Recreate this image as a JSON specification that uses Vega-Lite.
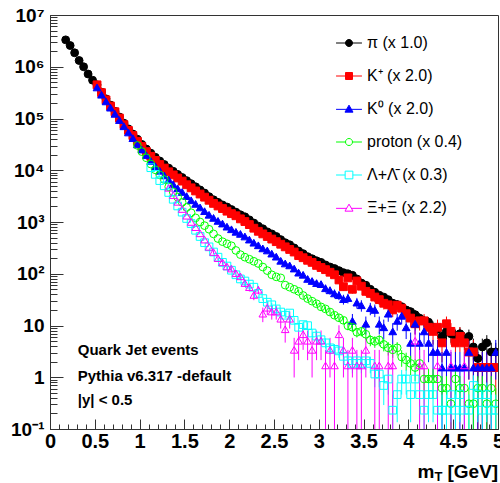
{
"$schema": "https://vega.github.io/schema/vega-lite/v6.json",
"width": 448, "height": 414,
"autosize": {"type": "none"},
"padding": {"left": 50, "top": 15, "right": 2, "bottom": 54},
"background": "white",
"config": {"view": {"stroke": "#333", "strokeWidth": 1}, "font": "Liberation Sans"},
"datasets": {
"ann": [
{"t": "Quark Jet events", "x": 0.31, "y": 3.37},
{"t": "Pythia v6.317 -default", "x": 0.31, "y": 1.06},
{"t": "|y| < 0.5", "x": 0.31, "y": 0.363}
],
"series": [{"s":"pi"},{"s":"kp"},{"s":"k0"},{"s":"p"},{"s":"lam"},{"s":"xi"}],
"main": [
{"s":"pi","x":0.175,"y":3310000},{"s":"pi","x":0.225,"y":2570000},{"s":"pi","x":0.275,"y":1860000},{"s":"pi","x":0.325,"y":1320000},{"s":"pi","x":0.375,"y":1000000},{"s":"pi","x":0.425,"y":724000},{"s":"pi","x":0.475,"y":550000},{"s":"pi","x":0.525,"y":447000},{"s":"pi","x":0.575,"y":324000},{"s":"pi","x":0.625,"y":240000},{"s":"pi","x":0.675,"y":182000},{"s":"pi","x":0.725,"y":138000},{"s":"pi","x":0.775,"y":107000},{"s":"pi","x":0.825,"y":81300},{"s":"pi","x":0.875,"y":63100},{"s":"pi","x":0.925,"y":50100},{"s":"pi","x":0.975,"y":39800},{"s":"pi","x":1.025,"y":31600},{"s":"pi","x":1.075,"y":25700},{"s":"pi","x":1.125,"y":21400},{"s":"pi","x":1.175,"y":17800},{"s":"pi","x":1.225,"y":15100},{"s":"pi","x":1.275,"y":12900},{"s":"pi","x":1.325,"y":11000},{"s":"pi","x":1.375,"y":9550},{"s":"pi","x":1.425,"y":8320},{"s":"pi","x":1.475,"y":7240},{"s":"pi","x":1.525,"y":6310},{"s":"pi","x":1.575,"y":5500},{"s":"pi","x":1.625,"y":4790},{"s":"pi","x":1.675,"y":4170},{"s":"pi","x":1.725,"y":3630},{"s":"pi","x":1.775,"y":3090},{"s":"pi","x":1.825,"y":2690},{"s":"pi","x":1.875,"y":2400},{"s":"pi","x":1.925,"y":2140},{"s":"pi","x":1.975,"y":1950},{"s":"pi","x":2.025,"y":1740},{"s":"pi","x":2.075,"y":1550},{"s":"pi","x":2.125,"y":1380},{"s":"pi","x":2.175,"y":1260},{"s":"pi","x":2.225,"y":1100},{"s":"pi","x":2.275,"y":955},{"s":"pi","x":2.325,"y":832},{"s":"pi","x":2.375,"y":741},{"s":"pi","x":2.425,"y":646},{"s":"pi","x":2.475,"y":589},{"s":"pi","x":2.525,"y":525},{"s":"pi","x":2.575,"y":457},{"s":"pi","x":2.625,"y":398},{"s":"pi","x":2.675,"y":363},{"s":"pi","x":2.725,"y":316},{"s":"pi","x":2.775,"y":275},{"s":"pi","x":2.825,"y":245},{"s":"pi","x":2.875,"y":214},{"s":"pi","x":2.925,"y":195},{"s":"pi","x":2.975,"y":178},{"s":"pi","x":3.025,"y":166},{"s":"pi","x":3.075,"y":148},{"s":"pi","x":3.125,"y":135},{"s":"pi","x":3.175,"y":126},
{"s":"pi","x":3.225,"y":115,"l":106,"h":124},{"s":"pi","x":3.275,"y":105,"l":96,"h":114},{"s":"pi","x":3.325,"y":100,"l":91.2,"h":108.8},{"s":"pi","x":3.375,"y":93.3,"l":84.8,"h":101.8},{"s":"pi","x":3.425,"y":79.3,"l":71.5,"h":87.1},{"s":"pi","x":3.475,"y":66.2,"l":59.1,"h":73.3},{"s":"pi","x":3.525,"y":60.1,"l":53.3,"h":66.9},{"s":"pi","x":3.575,"y":50.1,"l":43.9,"h":56.3},{"s":"pi","x":3.625,"y":43.9,"l":38.1,"h":49.7},{"s":"pi","x":3.675,"y":38.5,"l":33.1,"h":43.9},{"s":"pi","x":3.725,"y":35.4,"l":30.2,"h":40.6},{"s":"pi","x":3.775,"y":31.6,"l":26.7,"h":36.5},{"s":"pi","x":3.825,"y":27.0,"l":22.4,"h":31.6},{"s":"pi","x":3.875,"y":25.4,"l":21.0,"h":29.8},{"s":"pi","x":3.925,"y":23.1,"l":18.9,"h":27.3},{"s":"pi","x":3.975,"y":20.0,"l":16.1,"h":23.9},{"s":"pi","x":4.025,"y":18.5,"l":14.7,"h":22.3},{"s":"pi","x":4.075,"y":16.2,"l":12.7,"h":19.7},{"s":"pi","x":4.125,"y":13.9,"l":10.6,"h":17.2},{"s":"pi","x":4.175,"y":12.3,"l":9.2,"h":15.4},{"s":"pi","x":4.225,"y":11.6,"l":8.6,"h":14.6},{"s":"pi","x":4.275,"y":9.24,"l":6.57,"h":11.9},{"s":"pi","x":4.325,"y":8.47,"l":5.92,"h":11.0},{"s":"pi","x":4.375,"y":6.16,"l":3.98,"h":8.34},{"s":"pi","x":4.425,"y":7.7,"l":5.27,"h":10.1},{"s":"pi","x":4.475,"y":6.93,"l":4.62,"h":9.24},{"s":"pi","x":4.525,"y":6.16,"l":3.98,"h":8.34},{"s":"pi","x":4.575,"y":6.93,"l":4.62,"h":9.24},{"s":"pi","x":4.625,"y":5.39,"l":3.35,"h":7.43},{"s":"pi","x":4.675,"y":6.16,"l":3.98,"h":8.34},{"s":"pi","x":4.725,"y":3.85,"l":2.13,"h":5.57},{"s":"pi","x":4.775,"y":2.31,"l":0.98,"h":3.64},{"s":"pi","x":4.825,"y":3.85,"l":2.13,"h":5.57},{"s":"pi","x":4.875,"y":4.62,"l":2.73,"h":6.51},{"s":"pi","x":4.925,"y":3.08,"l":1.54,"h":4.62},{"s":"pi","x":4.975,"y":3.08,"l":1.54,"h":4.62},
{"s":"kp","x":0.525,"y":447000},{"s":"kp","x":0.575,"y":316000},{"s":"kp","x":0.625,"y":229000},{"s":"kp","x":0.675,"y":174000},{"s":"kp","x":0.725,"y":135000},{"s":"kp","x":0.775,"y":102000},{"s":"kp","x":0.825,"y":75900},{"s":"kp","x":0.875,"y":58900},{"s":"kp","x":0.925,"y":46800},{"s":"kp","x":0.975,"y":36300},{"s":"kp","x":1.025,"y":28800},{"s":"kp","x":1.075,"y":22900},{"s":"kp","x":1.125,"y":18600},{"s":"kp","x":1.175,"y":15500},{"s":"kp","x":1.225,"y":12900},{"s":"kp","x":1.275,"y":11000},{"s":"kp","x":1.325,"y":9330},{"s":"kp","x":1.375,"y":8130},{"s":"kp","x":1.425,"y":7080},{"s":"kp","x":1.475,"y":6170},{"s":"kp","x":1.525,"y":5250},{"s":"kp","x":1.575,"y":4570},{"s":"kp","x":1.625,"y":3980},{"s":"kp","x":1.675,"y":3470},{"s":"kp","x":1.725,"y":3020},{"s":"kp","x":1.775,"y":2630},{"s":"kp","x":1.825,"y":2290},{"s":"kp","x":1.875,"y":2040},{"s":"kp","x":1.925,"y":1820},{"s":"kp","x":1.975,"y":1620},{"s":"kp","x":2.025,"y":1450},{"s":"kp","x":2.075,"y":1320},{"s":"kp","x":2.125,"y":1150},{"s":"kp","x":2.175,"y":1020},{"s":"kp","x":2.225,"y":891},{"s":"kp","x":2.275,"y":759},{"s":"kp","x":2.325,"y":661},{"s":"kp","x":2.375,"y":589},{"s":"kp","x":2.425,"y":525},{"s":"kp","x":2.475,"y":468},{"s":"kp","x":2.525,"y":417},{"s":"kp","x":2.575,"y":372},{"s":"kp","x":2.625,"y":331},{"s":"kp","x":2.675,"y":295},{"s":"kp","x":2.725,"y":263},{"s":"kp","x":2.775,"y":224},
{"s":"kp","x":2.825,"y":204,"l":186,"h":222},{"s":"kp","x":2.875,"y":182,"l":165,"h":199},{"s":"kp","x":2.925,"y":166,"l":150,"h":182},{"s":"kp","x":2.975,"y":145,"l":130,"h":160},{"s":"kp","x":3.025,"y":132,"l":118,"h":146},{"s":"kp","x":3.075,"y":120,"l":106,"h":134},{"s":"kp","x":3.125,"y":107,"l":94,"h":120},{"s":"kp","x":3.175,"y":95.5,"l":83.4,"h":107.6},{"s":"kp","x":3.225,"y":75.9,"l":65,"h":86.7},{"s":"kp","x":3.275,"y":56.2,"l":46.8,"h":65.6},{"s":"kp","x":3.325,"y":83.2,"l":71.9,"h":94.5},{"s":"kp","x":3.375,"y":50.1,"l":41.4,"h":58.8},{"s":"kp","x":3.425,"y":72.4,"l":61.8,"h":83},{"s":"kp","x":3.475,"y":57.5,"l":48.1,"h":66.9},{"s":"kp","x":3.525,"y":45.7,"l":37.3,"h":54.1},{"s":"kp","x":3.575,"y":41.7,"l":33.7,"h":49.7},{"s":"kp","x":3.625,"y":35.5,"l":28.1,"h":42.9},{"s":"kp","x":3.675,"y":31.6,"l":24.7,"h":38.5},{"s":"kp","x":3.725,"y":26.9,"l":20.4,"h":33.4},{"s":"kp","x":3.775,"y":25.1,"l":18.8,"h":31.4},{"s":"kp","x":3.825,"y":20,"l":14.5,"h":25.5},{"s":"kp","x":3.875,"y":24.6,"l":18.5,"h":30.8},{"s":"kp","x":3.925,"y":21.6,"l":15.8,"h":27.4},{"s":"kp","x":3.975,"y":16.9,"l":11.8,"h":22.0},{"s":"kp","x":4.025,"y":13.9,"l":9.2,"h":18.5},{"s":"kp","x":4.075,"y":10.8,"l":6.7,"h":14.9},{"s":"kp","x":4.125,"y":12.3,"l":7.96,"h":16.7},{"s":"kp","x":4.175,"y":12.3,"l":7.96,"h":16.7},{"s":"kp","x":4.225,"y":9.24,"l":5.47,"h":13.0},{"s":"kp","x":4.275,"y":7.7,"l":4.26,"h":11.1},{"s":"kp","x":4.325,"y":9.24,"l":5.47,"h":13.0},{"s":"kp","x":4.375,"y":4.62,"l":1.95,"h":7.29},{"s":"kp","x":4.425,"y":10.8,"l":6.7,"h":14.9},{"s":"kp","x":4.475,"y":7.7,"l":4.26,"h":11.1},{"s":"kp","x":4.525,"y":4.62,"l":1.95,"h":7.29},{"s":"kp","x":4.575,"y":6.16,"l":3.08,"h":9.24},{"s":"kp","x":4.625,"y":4.62,"l":1.95,"h":7.29},{"s":"kp","x":4.675,"y":3.08,"l":0.9,"h":5.26},{"s":"kp","x":4.725,"y":3.08,"l":0.9,"h":5.26},{"s":"kp","x":4.775,"y":1.54,"l":0.01,"h":3.08},{"s":"kp","x":4.825,"y":1.54,"l":0.01,"h":3.08},{"s":"kp","x":4.875,"y":1.54,"l":0.01,"h":3.08},{"s":"kp","x":4.925,"y":1.54,"l":0.01,"h":3.08},{"s":"kp","x":4.975,"y":1.54,"l":0.01,"h":3.08},
{"s":"k0","x":0.525,"y":398000},{"s":"k0","x":0.575,"y":288000},{"s":"k0","x":0.625,"y":214000},{"s":"k0","x":0.675,"y":162000},{"s":"k0","x":0.725,"y":123000},{"s":"k0","x":0.775,"y":93300},{"s":"k0","x":0.825,"y":70800},{"s":"k0","x":0.875,"y":53700},{"s":"k0","x":0.925,"y":41700},{"s":"k0","x":0.975,"y":31600},{"s":"k0","x":1.025,"y":25100},{"s":"k0","x":1.075,"y":19500},{"s":"k0","x":1.125,"y":15100},{"s":"k0","x":1.175,"y":12000},{"s":"k0","x":1.225,"y":9770},{"s":"k0","x":1.275,"y":7940},{"s":"k0","x":1.325,"y":6610},{"s":"k0","x":1.375,"y":5370},{"s":"k0","x":1.425,"y":4470},{"s":"k0","x":1.475,"y":3800},{"s":"k0","x":1.525,"y":3160},{"s":"k0","x":1.575,"y":2630},{"s":"k0","x":1.625,"y":2240},{"s":"k0","x":1.675,"y":1910},{"s":"k0","x":1.725,"y":1620},{"s":"k0","x":1.775,"y":1380},{"s":"k0","x":1.825,"y":1200},{"s":"k0","x":1.875,"y":1050},{"s":"k0","x":1.925,"y":933},{"s":"k0","x":1.975,"y":813},{"s":"k0","x":2.025,"y":724},{"s":"k0","x":2.075,"y":646},{"s":"k0","x":2.125,"y":589},{"s":"k0","x":2.175,"y":525},{"s":"k0","x":2.225,"y":457},{"s":"k0","x":2.275,"y":398},{"s":"k0","x":2.325,"y":355},{"s":"k0","x":2.375,"y":309},{"s":"k0","x":2.425,"y":282},
{"s":"k0","x":2.475,"y":245,"l":226,"h":264},{"s":"k0","x":2.525,"y":214,"l":196,"h":232},{"s":"k0","x":2.575,"y":178,"l":161,"h":195},{"s":"k0","x":2.625,"y":158,"l":142,"h":174},{"s":"k0","x":2.675,"y":145,"l":130,"h":160},{"s":"k0","x":2.725,"y":126,"l":112,"h":140},{"s":"k0","x":2.775,"y":105,"l":92,"h":118},{"s":"k0","x":2.825,"y":95.5,"l":83.4,"h":107.6},{"s":"k0","x":2.875,"y":79.4,"l":68.4,"h":90.4},{"s":"k0","x":2.925,"y":72.4,"l":61.8,"h":83},{"s":"k0","x":2.975,"y":66,"l":56,"h":76},{"s":"k0","x":3.025,"y":63,"l":53.2,"h":72.8},{"s":"k0","x":3.075,"y":52.5,"l":43.5,"h":61.5},{"s":"k0","x":3.125,"y":47.9,"l":39.3,"h":56.5},{"s":"k0","x":3.175,"y":41.7,"l":33.7,"h":49.7},{"s":"k0","x":3.225,"y":38.5,"l":30.8,"h":46.2},{"s":"k0","x":3.275,"y":32.3,"l":25.3,"h":39.3},{"s":"k0","x":3.325,"y":33.9,"l":26.7,"h":41.1},{"s":"k0","x":3.375,"y":12.3,"l":7.96,"h":16.7},{"s":"k0","x":3.425,"y":27.7,"l":21.2,"h":34.2},{"s":"k0","x":3.475,"y":24.6,"l":18.5,"h":30.8},{"s":"k0","x":3.525,"y":10.8,"l":6.7,"h":14.9},{"s":"k0","x":3.575,"y":21.6,"l":15.8,"h":27.4},{"s":"k0","x":3.625,"y":20.0,"l":14.5,"h":25.5},{"s":"k0","x":3.675,"y":10.8,"l":6.7,"h":14.9},{"s":"k0","x":3.725,"y":9.24,"l":5.47,"h":13.0},{"s":"k0","x":3.775,"y":16.9,"l":11.8,"h":22.0},{"s":"k0","x":3.825,"y":7.7,"l":4.26,"h":11.1},{"s":"k0","x":3.875,"y":12.3,"l":7.96,"h":16.7},{"s":"k0","x":3.925,"y":15.4,"l":10.5,"h":20.3},{"s":"k0","x":3.975,"y":9.24,"l":5.47,"h":13.0},{"s":"k0","x":4.025,"y":4.62,"l":1.95,"h":7.29},{"s":"k0","x":4.075,"y":10.8,"l":6.7,"h":14.9},{"s":"k0","x":4.125,"y":4.62,"l":1.95,"h":7.29},{"s":"k0","x":4.175,"y":7.7,"l":4.26,"h":11.1},{"s":"k0","x":4.225,"y":4.62,"l":1.95,"h":7.29},{"s":"k0","x":4.275,"y":3.08,"l":0.9,"h":5.26},{"s":"k0","x":4.325,"y":3.08,"l":0.9,"h":5.26},{"s":"k0","x":4.375,"y":1.54,"l":0.01,"h":3.08},{"s":"k0","x":4.425,"y":3.08,"l":0.9,"h":5.26},{"s":"k0","x":4.475,"y":1.54,"l":0.01,"h":3.08},{"s":"k0","x":4.525,"y":1.54,"l":0.01,"h":3.08},{"s":"k0","x":4.575,"y":1.54,"l":0.01,"h":3.08},{"s":"k0","x":4.625,"y":1.54,"l":0.01,"h":3.08},{"s":"k0","x":4.675,"y":3.08,"l":0.9,"h":5.26},{"s":"k0","x":4.725,"y":1.54,"l":0.01,"h":3.08},{"s":"k0","x":4.775,"y":1.54,"l":0.01,"h":3.08},{"s":"k0","x":4.825,"y":1.54,"l":0.01,"h":3.08},{"s":"k0","x":4.875,"y":1.54,"l":0.01,"h":3.08},{"s":"k0","x":4.925,"y":1.54,"l":0.01,"h":3.08},{"s":"k0","x":4.975,"y":3.08,"l":0.9,"h":5.26},
{"s":"p","x":0.975,"y":30200},{"s":"p","x":1.025,"y":22900},{"s":"p","x":1.075,"y":17400},{"s":"p","x":1.125,"y":13200},{"s":"p","x":1.175,"y":10200},{"s":"p","x":1.225,"y":8130},{"s":"p","x":1.275,"y":6610},{"s":"p","x":1.325,"y":4790},{"s":"p","x":1.375,"y":3800},{"s":"p","x":1.425,"y":3020},{"s":"p","x":1.475,"y":2400},{"s":"p","x":1.525,"y":1910},{"s":"p","x":1.575,"y":1510},{"s":"p","x":1.625,"y":1200},{"s":"p","x":1.675,"y":1000},{"s":"p","x":1.725,"y":851},{"s":"p","x":1.775,"y":724},{"s":"p","x":1.825,"y":589},{"s":"p","x":1.875,"y":479},{"s":"p","x":1.925,"y":417},{"s":"p","x":1.975,"y":380},{"s":"p","x":2.025,"y":347},{"s":"p","x":2.075,"y":282},{"s":"p","x":2.125,"y":234},{"s":"p","x":2.175,"y":209},{"s":"p","x":2.225,"y":191},{"s":"p","x":2.275,"y":174},{"s":"p","x":2.325,"y":158},{"s":"p","x":2.375,"y":135},{"s":"p","x":2.425,"y":115},{"s":"p","x":2.475,"y":95.5},{"s":"p","x":2.525,"y":87.1},{"s":"p","x":2.575,"y":83.2},{"s":"p","x":2.625,"y":60.3},{"s":"p","x":2.675,"y":55},{"s":"p","x":2.725,"y":50.1},
{"s":"p","x":2.775,"y":45.7,"l":42,"h":49.5},{"s":"p","x":2.825,"y":38,"l":34.6,"h":41.4},{"s":"p","x":2.875,"y":33.1,"l":29.9,"h":36.3},{"s":"p","x":2.925,"y":29.5,"l":26.5,"h":32.5},{"s":"p","x":2.975,"y":26.3,"l":23.5,"h":29.1},{"s":"p","x":3.025,"y":22.9,"l":20.2,"h":25.6},{"s":"p","x":3.075,"y":20.9,"l":18.4,"h":23.4},{"s":"p","x":3.125,"y":18.2,"l":15.8,"h":20.6},{"s":"p","x":3.175,"y":15.8,"l":13.6,"h":18.0},{"s":"p","x":3.225,"y":14.1,"l":12.0,"h":16.2},{"s":"p","x":3.275,"y":12.6,"l":10.6,"h":14.6},{"s":"p","x":3.325,"y":9.86,"l":8.11,"h":11.6},{"s":"p","x":3.375,"y":9.24,"l":7.55,"h":10.9},{"s":"p","x":3.425,"y":7.39,"l":5.88,"h":8.9},{"s":"p","x":3.475,"y":7.7,"l":6.16,"h":9.24},{"s":"p","x":3.525,"y":6.78,"l":5.33,"h":8.22},{"s":"p","x":3.575,"y":5.24,"l":3.97,"h":6.51},{"s":"p","x":3.625,"y":4.93,"l":3.7,"h":6.16},{"s":"p","x":3.675,"y":5.24,"l":3.97,"h":6.51},{"s":"p","x":3.725,"y":4.31,"l":3.16,"h":5.46},{"s":"p","x":3.775,"y":3.7,"l":2.63,"h":4.77},{"s":"p","x":3.825,"y":3.39,"l":2.37,"h":4.41},{"s":"p","x":3.875,"y":3.7,"l":2.63,"h":4.77},{"s":"p","x":3.925,"y":2.46,"l":1.59,"h":3.33},{"s":"p","x":3.975,"y":2.16,"l":1.34,"h":2.98},{"s":"p","x":4.025,"y":1.85,"l":1.1,"h":2.6},{"s":"p","x":4.075,"y":1.54,"l":0.85,"h":2.23},{"s":"p","x":4.125,"y":1.85,"l":1.1,"h":2.6},{"s":"p","x":4.175,"y":0.924,"l":0.39,"h":1.46},{"s":"p","x":4.225,"y":0.924,"l":0.39,"h":1.46},{"s":"p","x":4.275,"y":0.924,"l":0.39,"h":1.46},{"s":"p","x":4.325,"y":0.924,"l":0.39,"h":1.46},{"s":"p","x":4.375,"y":0.616,"l":0.18,"h":1.05},{"s":"p","x":4.425,"y":0.616,"l":0.18,"h":1.05},{"s":"p","x":4.475,"y":0.308,"l":0.01,"h":0.616},{"s":"p","x":4.525,"y":0.924,"l":0.39,"h":1.46},{"s":"p","x":4.575,"y":0.616,"l":0.18,"h":1.05},{"s":"p","x":4.625,"y":0.616,"l":0.18,"h":1.05},{"s":"p","x":4.675,"y":0.308,"l":0.01,"h":0.616},{"s":"p","x":4.725,"y":0.308,"l":0.01,"h":0.616},{"s":"p","x":4.775,"y":0.616,"l":0.18,"h":1.05},{"s":"p","x":4.825,"y":0.616,"l":0.18,"h":1.05},{"s":"p","x":4.875,"y":0.308,"l":0.01,"h":0.616},{"s":"p","x":4.925,"y":0.616,"l":0.18,"h":1.05},{"s":"p","x":4.975,"y":0.308,"l":0.01,"h":0.616},
{"s":"lam","x":1.125,"y":11200},{"s":"lam","x":1.175,"y":8320},{"s":"lam","x":1.225,"y":6310},{"s":"lam","x":1.275,"y":5010},{"s":"lam","x":1.325,"y":3720},{"s":"lam","x":1.375,"y":2750},{"s":"lam","x":1.425,"y":2040},{"s":"lam","x":1.475,"y":1550},{"s":"lam","x":1.525,"y":1170},{"s":"lam","x":1.575,"y":933},{"s":"lam","x":1.625,"y":692},{"s":"lam","x":1.675,"y":525},{"s":"lam","x":1.725,"y":398},{"s":"lam","x":1.775,"y":331},{"s":"lam","x":1.825,"y":263},{"s":"lam","x":1.875,"y":209},{"s":"lam","x":1.925,"y":166},{"s":"lam","x":1.975,"y":141},{"s":"lam","x":2.025,"y":117},{"s":"lam","x":2.075,"y":95.5},{"s":"lam","x":2.125,"y":79.4},{"s":"lam","x":2.175,"y":72.4},{"s":"lam","x":2.225,"y":63.1},{"s":"lam","x":2.275,"y":55},{"s":"lam","x":2.325,"y":41.7},
{"s":"lam","x":2.375,"y":33.1,"l":30.3,"h":35.9},{"s":"lam","x":2.425,"y":28.2,"l":25.7,"h":30.7},{"s":"lam","x":2.475,"y":25.1,"l":22.7,"h":27.5},{"s":"lam","x":2.525,"y":20.9,"l":18.7,"h":23.1},{"s":"lam","x":2.575,"y":18.2,"l":16.1,"h":20.3},{"s":"lam","x":2.625,"y":15.8,"l":13.9,"h":17.7},{"s":"lam","x":2.675,"y":17.4,"l":15.4,"h":19.4},{"s":"lam","x":2.725,"y":12.6,"l":10.9,"h":14.3},{"s":"lam","x":2.775,"y":9.24,"l":7.78,"h":10.7},{"s":"lam","x":2.825,"y":10.4,"l":8.85,"h":11.9},{"s":"lam","x":2.875,"y":9.93,"l":8.42,"h":11.4},{"s":"lam","x":2.925,"y":7.16,"l":5.87,"h":8.45},{"s":"lam","x":2.975,"y":6.24,"l":5.04,"h":7.44},{"s":"lam","x":3.025,"y":5.31,"l":4.2,"h":6.42},{"s":"lam","x":3.075,"y":4.62,"l":3.59,"h":5.65},{"s":"lam","x":3.125,"y":3.7,"l":2.77,"h":4.62},{"s":"lam","x":3.175,"y":3.47,"l":2.57,"h":4.37},{"s":"lam","x":3.225,"y":3.23,"l":2.37,"h":4.09},{"s":"lam","x":3.275,"y":2.54,"l":1.77,"h":3.31},{"s":"lam","x":3.325,"y":2.08,"l":1.39,"h":2.77},{"s":"lam","x":3.375,"y":1.85,"l":1.19,"h":2.5},{"s":"lam","x":3.425,"y":2.08,"l":1.39,"h":2.77},{"s":"lam","x":3.475,"y":1.85,"l":1.19,"h":2.5},{"s":"lam","x":3.525,"y":2.08,"l":1.39,"h":2.77},{"s":"lam","x":3.575,"y":1.85,"l":1.19,"h":2.5},{"s":"lam","x":3.625,"y":1.155,"l":0.64,"h":1.67},{"s":"lam","x":3.675,"y":1.155,"l":0.64,"h":1.67},{"s":"lam","x":3.725,"y":0.693,"l":0.29,"h":1.09},{"s":"lam","x":3.775,"y":0.924,"l":0.462,"h":1.386},{"s":"lam","x":3.825,"y":0.231,"l":0.01,"h":0.462},{"s":"lam","x":3.875,"y":0.462,"l":0.135,"h":0.789},{"s":"lam","x":3.925,"y":0.924,"l":0.462,"h":1.386},{"s":"lam","x":3.975,"y":0.924,"l":0.462,"h":1.386},{"s":"lam","x":4.025,"y":0.462,"l":0.135,"h":0.789},{"s":"lam","x":4.075,"y":0.924,"l":0.462,"h":1.386},{"s":"lam","x":4.125,"y":0.462,"l":0.135,"h":0.789},{"s":"lam","x":4.175,"y":0.231,"l":0.01,"h":0.462},{"s":"lam","x":4.225,"y":0.462,"l":0.135,"h":0.789},{"s":"lam","x":4.275,"y":0.462,"l":0.135,"h":0.789},{"s":"lam","x":4.325,"y":0.231,"l":0.01,"h":0.462},{"s":"lam","x":4.375,"y":0.231,"l":0.01,"h":0.462},{"s":"lam","x":4.425,"y":0.231,"l":0.01,"h":0.462},{"s":"lam","x":4.475,"y":0.462,"l":0.135,"h":0.789},{"s":"lam","x":4.525,"y":0.231,"l":0.01,"h":0.462},{"s":"lam","x":4.575,"y":0.462,"l":0.135,"h":0.789},{"s":"lam","x":4.625,"y":0.231,"l":0.01,"h":0.462},{"s":"lam","x":4.675,"y":0.231,"l":0.01,"h":0.462},{"s":"lam","x":4.725,"y":0.693,"l":0.29,"h":1.09},{"s":"lam","x":4.775,"y":0.462,"l":0.135,"h":0.789},{"s":"lam","x":4.825,"y":0.231,"l":0.01,"h":0.462},{"s":"lam","x":4.875,"y":0.462,"l":0.135,"h":0.789},{"s":"lam","x":4.925,"y":0.231,"l":0.01,"h":0.462},{"s":"lam","x":4.975,"y":0.231,"l":0.01,"h":0.462},
{"s":"xi","x":1.325,"y":4570},{"s":"xi","x":1.375,"y":3310},{"s":"xi","x":1.425,"y":2450},{"s":"xi","x":1.475,"y":1780},{"s":"xi","x":1.525,"y":1320},{"s":"xi","x":1.575,"y":1000},{"s":"xi","x":1.625,"y":794},{"s":"xi","x":1.675,"y":603},{"s":"xi","x":1.725,"y":457},{"s":"xi","x":1.775,"y":331},
{"s":"xi","x":1.825,"y":263,"l":242,"h":284},{"s":"xi","x":1.875,"y":200,"l":181,"h":218},{"s":"xi","x":1.925,"y":166,"l":149,"h":183},{"s":"xi","x":1.975,"y":138,"l":123,"h":153},{"s":"xi","x":2.025,"y":126,"l":111,"h":141},{"s":"xi","x":2.075,"y":102,"l":89,"h":115},{"s":"xi","x":2.125,"y":89,"l":77,"h":101},{"s":"xi","x":2.175,"y":66,"l":55.4,"h":76.6},{"s":"xi","x":2.225,"y":55,"l":45.4,"h":64.6},{"s":"xi","x":2.275,"y":38.9,"l":30.8,"h":47},{"s":"xi","x":2.325,"y":49,"l":39.9,"h":58.1},{"s":"xi","x":2.375,"y":16.9,"l":11.6,"h":22.2},{"s":"xi","x":2.425,"y":22.0,"l":15.9,"h":28.1},{"s":"xi","x":2.475,"y":18.6,"l":13,"h":24.2},{"s":"xi","x":2.525,"y":18.6,"l":13,"h":24.2},{"s":"xi","x":2.575,"y":13.5,"l":8.73,"h":18.3},{"s":"xi","x":2.625,"y":8.45,"l":4.67,"h":12.2},{"s":"xi","x":2.675,"y":13.5,"l":8.73,"h":18.3},{"s":"xi","x":2.725,"y":3.38,"l":0.99,"h":5.77},{"s":"xi","x":2.775,"y":5.07,"l":2.14,"h":8},{"s":"xi","x":2.825,"y":6.76,"l":3.38,"h":10.1},{"s":"xi","x":2.875,"y":5.07,"l":2.14,"h":8},{"s":"xi","x":2.925,"y":3.38,"l":0.99,"h":5.77},{"s":"xi","x":2.975,"y":5.07,"l":2.14,"h":8},{"s":"xi","x":3.025,"y":5.07,"l":2.14,"h":8},{"s":"xi","x":3.075,"y":1.69,"l":0.01,"h":3.38},{"s":"xi","x":3.125,"y":3.38,"l":0.99,"h":5.77},{"s":"xi","x":3.175,"y":1.69,"l":0.01,"h":3.38},{"s":"xi","x":3.225,"y":6.76,"l":3.38,"h":10.1},{"s":"xi","x":3.275,"y":3.38,"l":0.99,"h":5.77},{"s":"xi","x":3.325,"y":1.69,"l":0.01,"h":3.38},{"s":"xi","x":3.375,"y":3.38,"l":0.99,"h":5.77},{"s":"xi","x":3.425,"y":1.69,"l":0.01,"h":3.38},{"s":"xi","x":3.475,"y":1.69,"l":0.01,"h":3.38},{"s":"xi","x":3.525,"y":3.38,"l":0.99,"h":5.77},{"s":"xi","x":3.625,"y":1.69,"l":0.01,"h":3.38},{"s":"xi","x":3.675,"y":1.69,"l":0.01,"h":3.38},{"s":"xi","x":3.775,"y":1.69,"l":0.01,"h":3.38},{"s":"xi","x":3.825,"y":1.69,"l":0.01,"h":3.38},{"s":"xi","x":4.075,"y":5.07,"l":2.14,"h":8},{"s":"xi","x":4.125,"y":1.69,"l":0.01,"h":3.38},{"s":"xi","x":4.175,"y":1.69,"l":0.01,"h":3.38},{"s":"xi","x":4.325,"y":1.69,"l":0.01,"h":3.38},{"s":"xi","x":4.475,"y":1.69,"l":0.01,"h":3.38},{"s":"xi","x":4.625,"y":1.69,"l":0.01,"h":3.38}
]
},
"resolve": {"axis": {"x": "independent", "y": "independent"}, "scale": {"shape": "independent", "fill": "independent", "stroke": "independent"}},
"layer": [
{
"data": {"name": "main"},
"transform": [{"filter": "isValid(datum.l)"}],
"mark": {"type": "rule", "strokeWidth": 1, "clip": true},
"encoding": {
"x": {"field": "x", "type": "quantitative", "scale": {"domain": [0, 5], "nice": false, "zero": false},
"axis": {"orient": "bottom", "values": [0, 0.5, 1, 1.5, 2, 2.5, 3, 3.5, 4, 4.5, 5], "ticks": false, "grid": false, "domain": true, "domainColor": "#333", "labelFont": "Liberation Sans", "labelFontWeight": "bold", "labelFontSize": 20, "labelColor": "#000", "labelPadding": 2, "labelFlush": false, "labelOverlap": false, "format": "~g",
"title": "m", "titleFont": "Liberation Sans", "titleFontWeight": "bold", "titleFontSize": 19, "titleColor": "#000", "titleX": 367, "titleY": 48, "titleAlign": "left", "titleBaseline": "alphabetic", "titleAnchor": "start"}},
"y": {"field": "l", "type": "quantitative", "scale": {"type": "log", "domain": [0.1, 10000000], "nice": false},
"axis": {"orient": "left", "values": [0.1, 1, 10, 100, 1000, 10000, 100000, 1000000, 10000000], "ticks": false, "grid": false, "domain": true, "domainColor": "#333", "labelFont": "Liberation Sans", "labelFontWeight": "bold", "labelFontSize": 19, "labelColor": "#000", "labelPadding": 6, "labelFlush": false, "labelOverlap": false, "title": null,
"labelExpr": "datum.value < 0.5 ? '10⁻¹' : datum.value < 5 ? '1' : datum.value < 50 ? '10' : datum.value < 500 ? '10²' : datum.value < 5000 ? '10³' : datum.value < 50000 ? '10⁴' : datum.value < 500000 ? '10⁵' : datum.value < 5000000 ? '10⁶' : '10⁷'"}},
"y2": {"field": "h"},
"color": {"field": "s", "type": "nominal", "scale": {"domain": ["xi", "lam", "p", "k0", "kp", "pi"], "range": ["#ff00ff", "#00ffff", "#00ff00", "#0000ff", "#ff0000", "#000000"]}, "legend": null}
}
},
{
"data": {"name": "main"},
"mark": {"type": "point", "strokeWidth": 1, "opacity": 1, "clip": true},
"encoding": {
"x": {"field": "x", "type": "quantitative",
"axis": {"orient": "bottom", "values": [0.1,0.2,0.3,0.4,0.6,0.7,0.8,0.9,1.1,1.2,1.3,1.4,1.6,1.7,1.8,1.9,2.1,2.2,2.3,2.4,2.6,2.7,2.8,2.9,3.1,3.2,3.3,3.4,3.6,3.7,3.8,3.9,4.1,4.2,4.3,4.4,4.6,4.7,4.8,4.9], "tickSize": -5, "tickColor": "#333", "labels": false, "domain": false, "grid": false,
"title": "T", "titleFont": "Liberation Sans", "titleFontWeight": "bold", "titleFontSize": 13, "titleColor": "#000", "titleX": 384, "titleY": 51, "titleAlign": "left", "titleBaseline": "alphabetic", "titleAnchor": "start"}},
"y": {"field": "y", "type": "quantitative",
"axis": {"orient": "left", "values": [0.2,0.3,0.4,0.5,0.6,0.7,0.8,0.9,2,3,4,5,6,7,8,9,20,30,40,50,60,70,80,90,200,300,400,500,600,700,800,900,2000,3000,4000,5000,6000,7000,8000,9000,20000,30000,40000,50000,60000,70000,80000,90000,200000,300000,400000,500000,600000,700000,800000,900000,2000000,3000000,4000000,5000000,6000000,7000000,8000000,9000000], "tickSize": -7, "tickColor": "#333", "labels": false, "domain": false, "grid": false, "title": null}},
"color": {"field": "s", "type": "nominal", "legend": null},
"shape": {"field": "s", "type": "nominal", "scale": {"domain": ["xi", "lam", "p", "k0", "kp", "pi"], "range": ["triangle-up", "square", "circle", "triangle-up", "square", "circle"]}, "legend": null},
"fill": {"field": "s", "type": "nominal", "scale": {"domain": ["xi", "lam", "p", "k0", "kp", "pi"], "range": ["transparent", "transparent", "transparent", "#0000ff", "#ff0000", "#000000"]}, "legend": null},
"size": {"field": "s", "type": "nominal", "scale": {"domain": ["xi", "lam", "p", "k0", "kp", "pi"], "range": [58, 62, 30, 45, 45, 38]}, "legend": null}
}
},
{
"data": {"name": "series"},
"mark": {"type": "point", "opacity": 0, "strokeWidth": 1},
"encoding": {
"shape": {"field": "s", "type": "nominal", "scale": {"domain": ["pi", "kp", "k0", "p", "lam", "xi"], "range": ["M-3.7,0H-1M1,0H3.7M-1,0A1,1,0,1,1,1,0A1,1,0,1,1,-1,0Z", "M-3.7,0H-1M1,0H3.7M-1,-1H1V1H-1Z", "M-3.7,0.1H-0.6M0.6,0.1H3.7M0,-1.1L1.15,0.9H-1.15Z", "M-3.7,0H-1M1,0H3.7M-1,0A1,1,0,1,1,1,0A1,1,0,1,1,-1,0Z", "M-3.7,0H-1.1M1.1,0H3.7M-1.1,-1.1H1.1V1.1H-1.1Z", "M-3.7,0.1H-0.6M0.6,0.1H3.7M0,-1.1L1.15,0.9H-1.15Z"]},
"legend": {"orient": "none", "legendX": 291, "legendY": 20, "title": null, "direction": "vertical", "padding": 0, "symbolSize": 49, "symbolStrokeWidth": 1, "symbolOpacity": 1, "labelFont": "Liberation Sans", "labelFontSize": 16, "labelColor": "#000", "labelOffset": 10, "rowPadding": 17,
"labelExpr": "datum.value == 'pi' ? 'π (x 1.0)' : datum.value == 'kp' ? 'K⁺ (x 2.0)' : datum.value == 'k0' ? 'K⁰ (x 2.0)' : datum.value == 'p' ? 'proton (x 0.4)' : datum.value == 'lam' ? 'Λ+Λ̄ (x 0.3)' : 'Ξ+Ξ (x 2.2)'"}},
"fill": {"field": "s", "type": "nominal", "scale": {"domain": ["pi", "kp", "k0", "p", "lam", "xi"], "range": ["#000000", "#ff0000", "#0000ff", "transparent", "transparent", "transparent"]},
"legend": {"orient": "none", "legendX": 291, "legendY": 20, "title": null, "direction": "vertical", "padding": 0, "symbolSize": 49, "symbolStrokeWidth": 1, "symbolOpacity": 1, "labelFont": "Liberation Sans", "labelFontSize": 16, "labelColor": "#000", "labelOffset": 10, "rowPadding": 17,
"labelExpr": "datum.value == 'pi' ? 'π (x 1.0)' : datum.value == 'kp' ? 'K⁺ (x 2.0)' : datum.value == 'k0' ? 'K⁰ (x 2.0)' : datum.value == 'p' ? 'proton (x 0.4)' : datum.value == 'lam' ? 'Λ+Λ̄ (x 0.3)' : 'Ξ+Ξ (x 2.2)'"}},
"stroke": {"field": "s", "type": "nominal", "scale": {"domain": ["pi", "kp", "k0", "p", "lam", "xi"], "range": ["#000000", "#ff0000", "#0000ff", "#00ff00", "#00ffff", "#ff00ff"]},
"legend": {"orient": "none", "legendX": 291, "legendY": 20, "title": null, "direction": "vertical", "padding": 0, "symbolSize": 49, "symbolStrokeWidth": 1, "symbolOpacity": 1, "labelFont": "Liberation Sans", "labelFontSize": 16, "labelColor": "#000", "labelOffset": 10, "rowPadding": 17,
"labelExpr": "datum.value == 'pi' ? 'π (x 1.0)' : datum.value == 'kp' ? 'K⁺ (x 2.0)' : datum.value == 'k0' ? 'K⁰ (x 2.0)' : datum.value == 'p' ? 'proton (x 0.4)' : datum.value == 'lam' ? 'Λ+Λ̄ (x 0.3)' : 'Ξ+Ξ (x 2.2)'"}}
}
},
{
"data": {"name": "ann"},
"mark": {"type": "text", "align": "left", "baseline": "middle", "font": "Liberation Sans", "fontWeight": "bold", "fontSize": 15, "color": "#000"},
"encoding": {
"x": {"field": "x", "type": "quantitative",
"axis": {"orient": "bottom", "values": [0, 0.5, 1, 1.5, 2, 2.5, 3, 3.5, 4, 4.5, 5], "tickSize": -10, "tickColor": "#333", "labels": false, "domain": false, "grid": false,
"title": "[GeV]", "titleFont": "Liberation Sans", "titleFontWeight": "bold", "titleFontSize": 19, "titleColor": "#000", "titleX": 397, "titleY": 48, "titleAlign": "left", "titleBaseline": "alphabetic", "titleAnchor": "start"}},
"y": {"field": "y", "type": "quantitative",
"axis": {"orient": "left", "values": [0.1, 1, 10, 100, 1000, 10000, 100000, 1000000, 10000000], "tickSize": -13, "tickColor": "#333", "labels": false, "domain": false, "grid": false, "title": null}},
"text": {"field": "t"}
}
}
]
}
